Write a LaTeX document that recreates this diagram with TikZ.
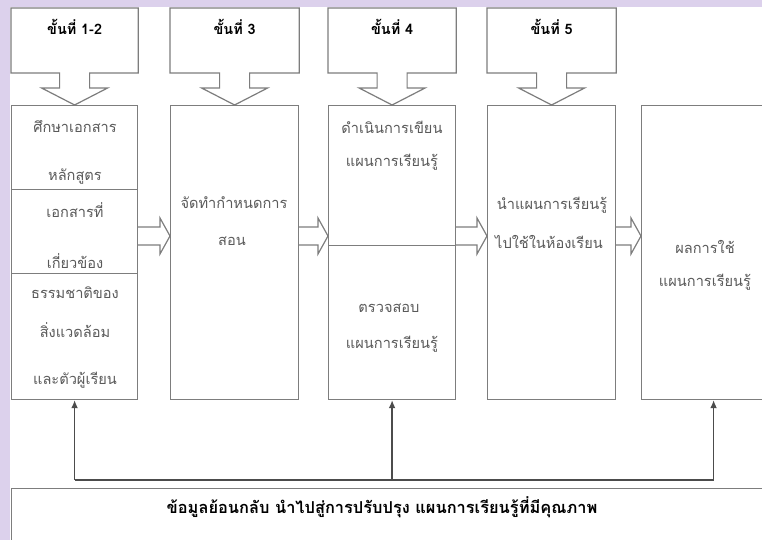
\documentclass[tikz,border=0pt]{standalone}
\usepackage{fontspec}
\newfontfamily\thai[Script=Thai]{Loma}
\usetikzlibrary{calc,arrows.meta}
\definecolor{lav}{RGB}{220,209,236}
\definecolor{edge}{RGB}{125,125,125}
\definecolor{txt}{RGB}{90,90,90}
\newcommand\blockarrow[3]{%
  \draw[barrow] (#1.east |- 0,#3-9) -- ($(#2.west |- 0,#3-9)+(-10,0)$)
    -- ($(#2.west |- 0,#3-18)+(-10,0)$) -- (#2.west |- 0,#3)
    -- ($(#2.west |- 0,#3+18)+(-10,0)$) -- ($(#2.west |- 0,#3+9)+(-10,0)$)
    -- (#1.east |- 0,#3+9);}
\newcommand\callout[3]{%
  \draw[callout] (#1.north west |- 0,73) -- (#1.north west |- 0,8)
    -- (#1.north east |- 0,8) -- (#1.north east |- 0,73)
    -- ($(#1.north)+(15,-32)$) -- ($(#1.north)+(15,-17)$)
    -- ($(#1.north)+(33,-17)$) -- (#1.north)
    -- ($(#1.north)+(-33,-17)$) -- ($(#1.north)+(-15,-17)$)
    -- ($(#1.north)+(-15,-32)$) -- cycle;
  \node[head] (#2) at (#1.north |- 0,27) {#3};}
\begin{document}
\begin{tikzpicture}[x=0.5pt,y=-0.5pt,
  box/.style={draw=edge, line width=0.6pt, fill=white, inner sep=0pt, anchor=north west},
  lbl/.style={font=\thai\fontsize{7.3}{9}\selectfont, text=txt, inner sep=0pt},
  head/.style={font=\thai\bfseries\fontsize{7.2}{9}\selectfont, text=black, inner sep=0pt},
  bottomtext/.style={font=\thai\bfseries\fontsize{8.2}{10}\selectfont, text=black, inner sep=0pt},
  callout/.style={draw=edge, line width=0.6pt, fill=white},
  barrow/.style={draw=edge, line width=0.6pt, fill=white},
  fb/.style={draw=black!70, line width=0.65pt},
  fbarrow/.style={fb, -{Latex[length=4pt,width=3.4pt]}}]
\useasboundingbox (0,0) rectangle (762,540);
\clip (0,0) rectangle (762,540);
\fill[lav] (0,0) rectangle (762,540);
\fill[white] (10,7) rectangle (762,540);
% main boxes
\node[box, minimum width=63pt, minimum height=42pt] (s1) at (11,105) {};
\node[box, minimum width=63pt, minimum height=42pt] (s2) at (11,189) {};
\node[box, minimum width=63pt, minimum height=63pt] (s3) at (11,273) {};
\node[box, minimum width=64pt, minimum height=147pt] (b2) at (170,105) {};
\node[box, minimum width=63.5pt, minimum height=70pt] (b3a) at (328,105) {};
\node[box, minimum width=63.5pt, minimum height=77pt] (b3b) at (328,245) {};
\node[box, minimum width=64pt, minimum height=147pt] (b4) at (487,105) {};
\node[box, minimum width=72pt, minimum height=147pt] (b5) at (641,105) {};
\node[box, minimum width=400pt, minimum height=60pt] (fbbox) at (11,488) {};
% block arrows
\blockarrow{s2}{b2}{236}
\blockarrow{b2}{b3a}{236}
\blockarrow{b3a}{b4}{236}
\blockarrow{b4}{b5}{236}
% callouts
\callout{s1}{h1}{ขั้นที่ 1-2}
\callout{b2}{h2}{ขั้นที่ 3}
\callout{b3a}{h3}{ขั้นที่ 4}
\callout{b4}{h4}{ขั้นที่ 5}
% texts
\node[lbl] (t1) at (75,127) {ศึกษาเอกสาร};
\node[lbl] (t2) at (75,177) {หลักสูตร};
\node[lbl] (t3) at (75,210) {เอกสารที่};
\node[lbl] (t4) at (75,261) {เกี่ยวข้อง};
\node[lbl] (t5) at (75,293) {ธรรมชาติของ};
\node[lbl] (t6) at (75,330) {สิ่งแวดล้อม};
\node[lbl] (t7) at (75,380) {และตัวผู้เรียน};
\node[lbl] (t8) at (234,203) {จัดทำกำหนดการ};
\node[lbl] (t9) at (232,241) {สอน};
\node[lbl] (t10) at (392,127) {ดำเนินการเขียน};
\node[lbl] (t11) at (392,162) {แผนการเรียนรู้};
\node[lbl] (t12) at (389,308) {ตรวจสอบ};
\node[lbl] (t13) at (392,344) {แผนการเรียนรู้};
\node[lbl] (t14) at (552,205) {นำแผนการเรียนรู้};
\node[lbl] (t15) at (549,242) {ไปใช้ในห้องเรียน};
\node[lbl] (t16) at (705,247) {ผลการใช้};
\node[lbl] (t17) at (705,282) {แผนการเรียนรู้};
\node[bottomtext] (t18) at (382,507) {ข้อมูลย้อนกลับ นำไปสู่การปรับปรุง แผนการเรียนรู้ที่มีคุณภาพ};
% feedback
\coordinate (fbrow) at (0,480);
\draw[fb] (s3.south |- fbrow) -- (b5.south |- fbrow);
\draw[fbarrow] (s3.south |- fbrow) -- (s3.south);
\draw[fbarrow] (b3b.south |- fbrow) -- (b3b.south);
\draw[fbarrow] (b5.south |- fbrow) -- (b5.south);
\end{tikzpicture}
\end{document}
